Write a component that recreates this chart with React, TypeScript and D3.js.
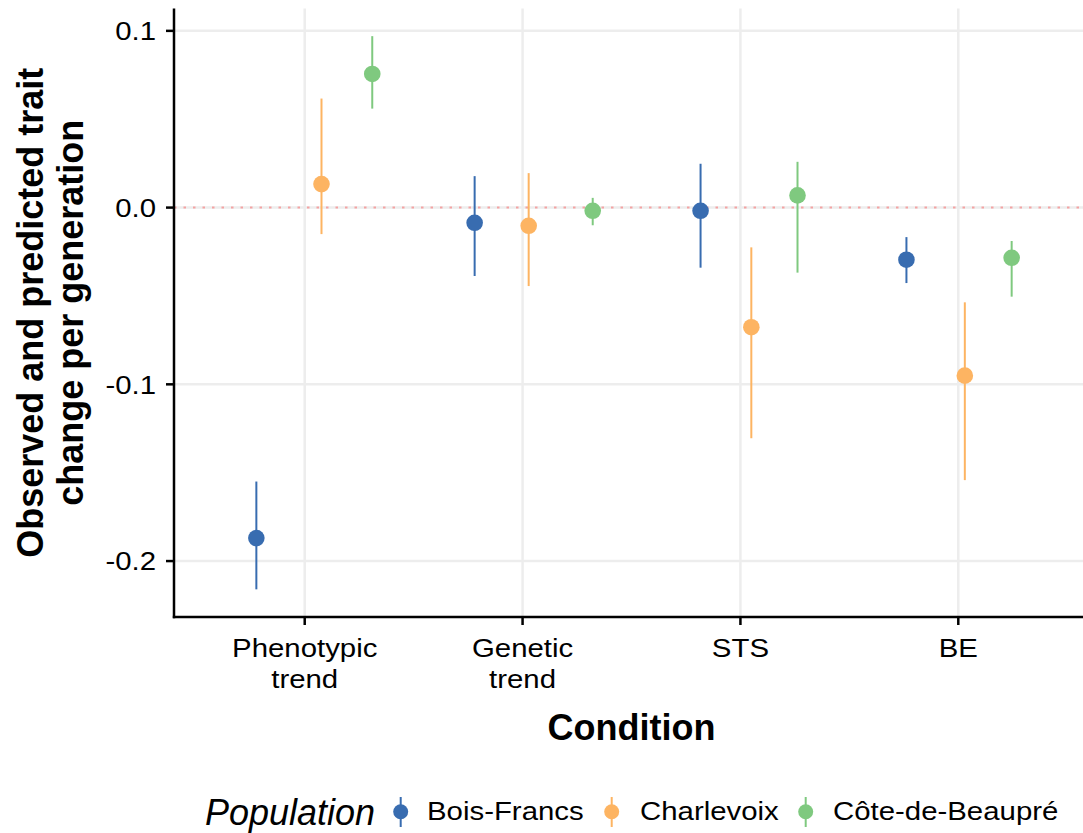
import React from "react";
import * as d3 from "d3";

const conditions = ["Phenotypic\ntrend", "Genetic\ntrend", "STS", "BE"];
const populations = ["Bois-Francs", "Charlevoix", "Côte-de-Beaupré"];
const colors = ["#386cb0", "#fdb462", "#7fc97f"];

// estimates per population, one per condition
const estBF = [-0.187, -0.0086, -0.0018, -0.0295];
const estCH = [0.0133, -0.0103, -0.0677, -0.0951];
const estCB = [0.0756, -0.0018, 0.0069, -0.0284];
const lowBF = [-0.216, -0.0387, -0.034, -0.0427];
const lowCH = [-0.015, -0.0444, -0.1305, -0.1542];
const lowCB = [0.056, -0.01, -0.0368, -0.0504];
const upBF = [-0.155, 0.0178, 0.0248, -0.0167];
const upCH = [0.0617, 0.0195, -0.0225, -0.0536];
const upCB = [0.097, 0.0055, 0.0259, -0.0189];
// horizontal jitter (in category units)
const jitBF = [-0.222, -0.22, -0.183, -0.238];
const jitCH = [0.077, 0.028, 0.05, 0.03];
const jitCB = [0.31, 0.322, 0.262, 0.245];

const yTicks = [0.1, 0.0, -0.1, -0.2];

const series = [
  { est: estBF, low: lowBF, up: upBF, jit: jitBF },
  { est: estCH, low: lowCH, up: upCH, jit: jitCH },
  { est: estCB, low: lowCB, up: upCB, jit: jitCB },
];

const FONT = "'Liberation Sans', Arial, Helvetica, sans-serif";
const SX = 1.13; // horizontal stretch of regular text in the reference

function SText({ x, y, anchor = "start", size = 26, children }: any) {
  return (
    <g transform={`translate(${x},${y}) scale(${SX},1)`}>
      <text x={0} y={0} textAnchor={anchor} fontSize={size} fill="#000">
        {children}
      </text>
    </g>
  );
}

export default function App() {
  const W = 1083, H = 833;
  const left = 174, right = 1089, top = 8.5, bottom = 617;
  const allVals = [...lowBF, ...lowCH, ...lowCB, ...upBF, ...upCH, ...upCB];
  const lo = d3.min(allVals)!, hi = d3.max(allVals)!;
  const pad = (hi - lo) * 0.05;
  const y = d3.scaleLinear().domain([lo - pad, hi + pad]).range([bottom, top]);
  const x = d3.scaleLinear().domain([0.4, conditions.length + 0.6]).range([left, right]);
  const fmt = (t: number) => d3.format(".1f")(t).replace("\u2212", "-");

  const legendKeys = [400.7, 611.7, 805.7];
  const legendLabels = [427, 640, 833];

  return (
    <svg width={W} height={H} style={{ position: "absolute", left: 0, top: 0, display: "block", background: "#fff" }} fontFamily={FONT}>
      {/* grid */}
      {yTicks.map((t) => (
        <line key={"gy" + t} x1={left} x2={W} y1={y(t)} y2={y(t)} stroke="#ededed" strokeWidth={2.5} />
      ))}
      {conditions.map((c, i) => (
        <line key={"gx" + i} x1={x(i + 1)} x2={x(i + 1)} y1={top} y2={bottom} stroke="#ededed" strokeWidth={2.5} />
      ))}
      {/* zero line */}
      <line x1={left} x2={W} y1={y(0)} y2={y(0)} stroke="#f4a3a3" strokeWidth={2} strokeDasharray="2.5,7" />
      {/* error bars and points */}
      {series.map((s, si) =>
        s.est.map((v, ci) => {
          const cx = x(ci + 1 + s.jit[ci]);
          return (
            <g key={si + "-" + ci}>
              <line x1={cx} x2={cx} y1={y(s.low[ci])} y2={y(s.up[ci])} stroke={colors[si]} strokeWidth={2} />
              <circle cx={cx} cy={y(v)} r={8.3} fill={colors[si]} />
            </g>
          );
        })
      )}
      {/* axes */}
      <line x1={left} x2={left} y1={top} y2={bottom + 1.2} stroke="#000" strokeWidth={2.5} />
      <line x1={left - 1.2} x2={W} y1={bottom} y2={bottom} stroke="#000" strokeWidth={2.5} />
      {yTicks.map((t) => (
        <g key={"yt" + t}>
          <line x1={left - 8} x2={left} y1={y(t)} y2={y(t)} stroke="#000" strokeWidth={2.5} />
          <SText x={left - 18} y={y(t) + 9.4} anchor="end">{fmt(t)}</SText>
        </g>
      ))}
      {conditions.map((c, i) => (
        <g key={"xt" + i}>
          <line x1={x(i + 1)} x2={x(i + 1)} y1={bottom} y2={bottom + 8} stroke="#000" strokeWidth={2.5} />
          {c.split("\n").map((ln, li) => (
            <SText key={li} x={x(i + 1)} y={656.7 + li * 31.6} anchor="middle">{ln}</SText>
          ))}
        </g>
      ))}
      {/* axis titles */}
      <text x={(left + right) / 2} y={740} textAnchor="middle" fontSize={36} fontWeight="bold" fill="#000">
        Condition
      </text>
      <g transform={`translate(0, ${(top + bottom) / 2}) rotate(-90)`}>
        <text x={0} y={43} textAnchor="middle" fontSize={36} fontWeight="bold" fill="#000">
          Observed and predicted trait
        </text>
        <text x={0} y={83} textAnchor="middle" fontSize={36} fontWeight="bold" fill="#000">
          change per generation
        </text>
      </g>
      {/* legend */}
      <text x={205} y={825} fontSize={36} fontStyle="italic" fill="#000">Population</text>
      {populations.map((p, i) => (
        <g key={"lg" + i}>
          <line x1={legendKeys[i]} x2={legendKeys[i]} y1={797} y2={827} stroke={colors[i]} strokeWidth={2} />
          <circle cx={legendKeys[i]} cy={811.7} r={7.5} fill={colors[i]} />
          <SText x={legendLabels[i]} y={820}>{p}</SText>
        </g>
      ))}
    </svg>
  );
}
